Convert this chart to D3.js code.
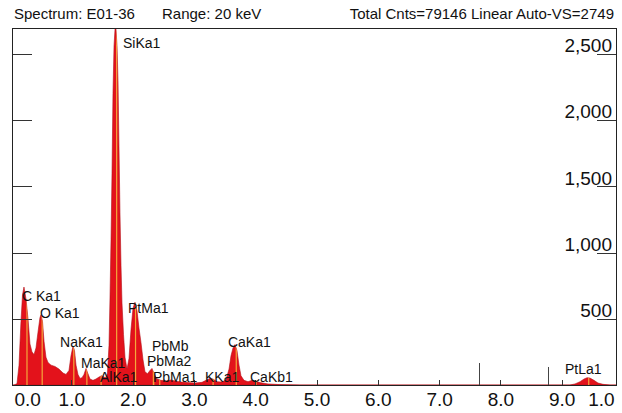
<!DOCTYPE html>
<meta charset="utf-8">
<style>
body { margin: 0; background: #fff; }
text { font-family: Arial, "Liberation Sans", sans-serif; fill: #111; }
.frame { fill: none; stroke: #222; stroke-width: 1px; shape-rendering: crispEdges; }
.axis path { display: none; }
.axis line { stroke: #333; shape-rendering: crispEdges; }
.axis text { font-size: 19px; fill: #111; }
.tag { font-size: 14px; }
</style>
<body>
<script src="https://d3js.org/d3.v7.min.js"></script>
<script>

// header texts
var headLeft = "Spectrum: E01-36";
var headMid = "Range: 20 keV";
var headRight = "Total Cnts=79146 Linear Auto-VS=2749";

// spectrum, [energy keV, counts]
var spectrum = [
  [0.033, 0], [0.065, 0], [0.114, 10], [0.147, 150], [0.179, 480], [0.204, 680],
  [0.228, 740], [0.261, 650], [0.294, 500], [0.326, 310], [0.359, 250], [0.392, 230],
  [0.424, 280], [0.457, 400], [0.489, 510], [0.506, 530], [0.530, 480], [0.555, 330],
  [0.587, 210], [0.620, 170], [0.669, 150], [0.734, 140], [0.799, 120], [0.865, 90],
  [0.914, 80], [0.962, 110], [0.995, 220], [1.028, 295], [1.052, 260], [1.077, 150],
  [1.109, 80], [1.142, 50], [1.175, 55], [1.207, 80], [1.240, 125], [1.272, 85],
  [1.305, 45], [1.354, 35], [1.403, 45], [1.452, 60], [1.493, 70], [1.533, 60],
  [1.566, 55], [1.590, 90], [1.615, 300], [1.631, 650], [1.648, 1100], [1.664, 1600],
  [1.680, 2200], [1.697, 2560], [1.721, 2749], [1.746, 2560], [1.762, 2300], [1.778, 1800],
  [1.794, 1300], [1.811, 900], [1.827, 620], [1.852, 380], [1.876, 210], [1.909, 120],
  [1.941, 200], [1.974, 420], [2.007, 580], [2.039, 625], [2.072, 560], [2.104, 430],
  [2.137, 320], [2.170, 190], [2.202, 100], [2.243, 85], [2.284, 110], [2.316, 125],
  [2.357, 80], [2.398, 45], [2.463, 35], [2.545, 30], [2.626, 38], [2.692, 30],
  [2.790, 22], [2.904, 18], [3.018, 15], [3.132, 20], [3.197, 35], [3.263, 50],
  [3.312, 45], [3.377, 25], [3.458, 22], [3.524, 40], [3.573, 120], [3.605, 220],
  [3.638, 280], [3.670, 305], [3.703, 260], [3.736, 150], [3.768, 70], [3.817, 35],
  [3.883, 25], [3.948, 35], [3.997, 30], [4.078, 18], [4.209, 8], [4.405, 3],
  [4.731, 0], [9.135, 0], [9.217, 8], [9.299, 25], [9.364, 45], [9.413, 55],
  [9.462, 52], [9.527, 35], [9.592, 15], [9.674, 5], [9.788, 0], [9.886, 0]
];

// element lines: name, energy keV, label anchor [keV, counts]
var lineNames = ["C Ka1", "O Ka1", "NaKa1", "MaKa1", "AlKa1", "SiKa1", "PtMa1",
                 "PbMb", "PbMa2", "PbMa1", "KKa1", "CaKa1", "CaKb1", "PtLa1"];
var lineEnergy = [0.277, 0.525, 1.041, 1.254, 1.486, 1.740, 2.048,
                  2.443, 2.339, 2.345, 3.313, 3.691, 4.012, 9.441];
var labelAt = [[0.196, 634], [0.489, 506], [0.816, 287], [1.158, 128], [1.468, 23],
               [1.843, 2545], [1.925, 544], [2.316, 257], [2.235, 143], [2.333, 23],
               [3.181, 23], [3.556, 287], [3.915, 23], [9.054, 83]];

// cursor markers [keV, counts]
var markers = [[7.65, 166], [8.78, 136]];

// axes
var yTicks = [500, 1000, 1500, 2000, 2500];
var xTicks = [1, 2, 3, 4, 5, 6, 7, 8, 9];
var xLabels = ["0.0", "1.0", "2.0", "3.0", "4.0", "5.0", "6.0", "7.0", "8.0", "9.0", "1.0"];
var xLabelAt = [0.28, 1, 2, 3, 4, 5, 6, 7, 8, 9, 9.64];

var W = 622, H = 413;
var pL = 12, pR = 616, pT = 28, pB = 385;

var x = d3.scaleLinear().domain([0, 10]).range([10, 623]);
var y = d3.scaleLinear().domain([0, 2500]).range([pB, 54]);

var svg = d3.select("body").append("svg")
    .attr("width", W)
    .attr("height", H);

var defs = svg.append("defs");
defs.append("clipPath").attr("id", "plot")
  .append("rect")
    .attr("x", pL).attr("y", pT)
    .attr("width", pR - pL).attr("height", pB - pT);

var area = d3.area()
    .x(function(d) { return x(d[0]); })
    .y0(y(0))
    .y1(function(d) { return y(d[1]); });

defs.append("clipPath").attr("id", "spec")
  .append("path")
    .datum(spectrum)
    .attr("d", area);

// header
svg.append("text").attr("x", 14).attr("y", 19).style("font-size", "15px").text(headLeft);
svg.append("text").attr("x", 162).attr("y", 19).style("font-size", "15px").text(headMid);
svg.append("text").attr("x", 614).attr("y", 19).attr("text-anchor", "end")
    .style("font-size", "15px").text(headRight);

var plot = svg.append("g").attr("clip-path", "url(#plot)");

// the spectrum
plot.append("path")
    .datum(spectrum)
    .attr("fill", "#e3121b")
    .attr("stroke", "#b3101a")
    .attr("stroke-width", 0.6)
    .attr("d", area);

// orange element lines inside the fill
plot.append("g")
    .attr("clip-path", "url(#spec)")
  .selectAll("line")
  .data(lineEnergy)
  .enter().append("line")
    .attr("x1", function(d) { return x(d); })
    .attr("x2", function(d) { return x(d); })
    .attr("y1", y(0))
    .attr("y2", pT)
    .attr("stroke", "#f4a83a")
    .attr("stroke-width", 1.2);

// markers
plot.selectAll(".marker")
  .data(markers)
  .enter().append("line")
    .attr("class", "marker")
    .attr("x1", function(d) { return Math.round(x(d[0])) + 0.5; })
    .attr("x2", function(d) { return Math.round(x(d[0])) + 0.5; })
    .attr("y1", y(0))
    .attr("y2", function(d) { return y(d[1]); })
    .attr("stroke", "#444");

// x ticks (small, inward) and labels
svg.append("g")
    .attr("class", "axis")
    .attr("transform", "translate(0," + pB + ")")
    .call(d3.axisBottom(x).tickValues(xTicks).tickSize(-5).tickFormat(""));

svg.append("g")
    .attr("class", "axis")
    .attr("transform", "translate(0," + pB + ")")
    .call(d3.axisBottom(x).tickValues(xLabelAt).tickSize(0).tickPadding(8)
      .tickFormat(function(d, i) { return xLabels[i]; }));

// left ticks
svg.append("g")
    .attr("class", "axis")
    .attr("transform", "translate(" + pL + ",0)")
    .call(d3.axisRight(y).tickValues(yTicks).tickSize(20).tickFormat(""));

// right ticks with labels sitting on them
var ry = svg.append("g")
    .attr("class", "axis")
    .attr("transform", "translate(" + pR + ",0)")
    .call(d3.axisLeft(y).tickValues(yTicks).tickSize(19).tickFormat(d3.format(",")));
ry.selectAll("text")
    .attr("x", -4)
    .attr("dy", "-0.12em")
    .attr("text-anchor", "end");

// frame
svg.append("rect")
    .attr("class", "frame")
    .attr("x", pL + 0.5).attr("y", pT + 0.5)
    .attr("width", pR - pL).attr("height", pB - pT);

// element labels
svg.selectAll(".tag")
  .data(lineNames)
  .enter().append("text")
    .attr("class", "tag")
    .attr("x", function(d, i) { return x(labelAt[i][0]); })
    .attr("y", function(d, i) { return y(labelAt[i][1]); })
    .text(function(d) { return d; });

</script>
</body>
